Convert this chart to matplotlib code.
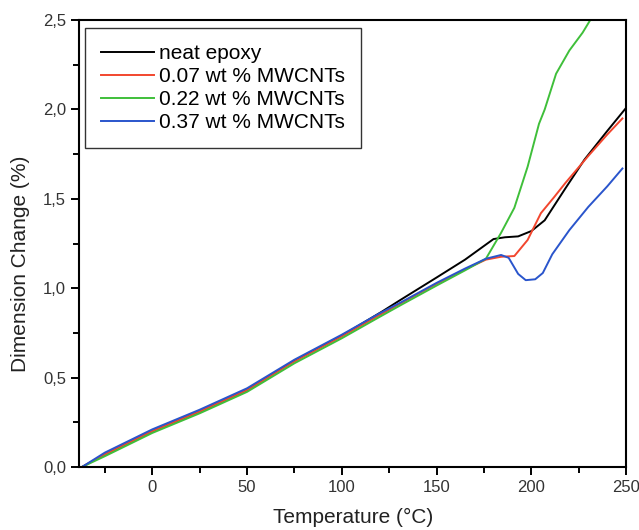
import matplotlib.pyplot as plt
from matplotlib.ticker import MultipleLocator, FuncFormatter

plt.rcParams['font.family'] = ['Liberation Sans', 'DejaVu Sans']

# temperature (deg C) and dimension change (%)
t_neat = [-37, -25, 0, 25, 50, 75, 100, 121, 131, 150, 165, 180, 186, 193, 200, 207, 218, 228, 240, 250]
d_neat = [0.0, 0.07, 0.2, 0.31, 0.43, 0.595, 0.735, 0.868, 0.935, 1.06, 1.16, 1.275, 1.285, 1.29, 1.32, 1.38, 1.56, 1.72, 1.88, 2.01]

t_007 = [-37, -25, 0, 25, 50, 75, 100, 120, 131, 150, 165, 176, 184, 191, 198, 205, 212, 218, 230, 240, 248]
d_007 = [0.0, 0.07, 0.2, 0.31, 0.43, 0.59, 0.73, 0.85, 0.915, 1.025, 1.105, 1.16, 1.176, 1.18, 1.27, 1.42, 1.51, 1.59, 1.74, 1.86, 1.95]

t_022 = [-37, -25, 0, 25, 50, 75, 100, 120, 131, 150, 165, 176, 184, 191, 198, 204, 207, 213, 220, 227, 231]
d_022 = [0.0, 0.06, 0.19, 0.3, 0.42, 0.58, 0.72, 0.84, 0.905, 1.015, 1.1, 1.165, 1.31, 1.45, 1.68, 1.92, 2.0, 2.2, 2.33, 2.43, 2.5]

t_037 = [-37, -25, 0, 25, 50, 75, 100, 120, 131, 150, 165, 176, 184, 188, 193, 197, 202, 206, 211, 220, 230, 240, 248]
d_037 = [0.0, 0.08, 0.21, 0.32, 0.44, 0.6, 0.74, 0.86, 0.92, 1.03, 1.11, 1.165, 1.186, 1.17, 1.08, 1.045, 1.05, 1.085, 1.19, 1.325, 1.455, 1.57, 1.67]

labels = ['neat epoxy', '0.07 wt % MWCNTs', '0.22 wt % MWCNTs', '0.37 wt % MWCNTs']
colors = ['black', '#f2462e', '#3fbf3a', '#2a55cc']

fig = plt.figure(figsize=(6.39, 5.30), dpi=100)
ax = fig.add_axes([0.124, 0.119, 0.856, 0.843])

for t, d, lab, c in zip([t_neat, t_007, t_022, t_037], [d_neat, d_007, d_022, d_037], labels, colors):
    ax.plot(t, d, color=c, lw=1.4, label=lab)

ax.set_xlim(-38.5, 250)
ax.set_ylim(0, 2.5)
ax.xaxis.set_major_locator(MultipleLocator(50))
ax.xaxis.set_minor_locator(MultipleLocator(25))
ax.yaxis.set_major_locator(MultipleLocator(0.5))
ax.yaxis.set_minor_locator(MultipleLocator(0.25))
ax.yaxis.set_major_formatter(FuncFormatter(lambda v, p: f"{v:.1f}".replace('.', ',')))
ax.tick_params(which='major', direction='out', length=6, width=1.4, labelsize=12, labelcolor='#333333')
ax.tick_params(which='minor', direction='out', length=4, width=1.4)
for s in ax.spines.values():
    s.set_linewidth(1.5)

ax.set_xlabel('Temperature (°C)', fontsize=15, color='#222222', labelpad=9)
ax.set_ylabel('Dimension Change (%)', fontsize=15, color='#222222')
ax.yaxis.set_label_coords(-0.09, 0.454)

leg = ax.legend(loc='upper left', bbox_to_anchor=(0.011, 0.982), borderaxespad=0, fontsize=15,
                frameon=True, fancybox=False, edgecolor='black', handlelength=2.55,
                handletextpad=0.25, labelspacing=0.2, borderpad=0.75)
leg.get_frame().set_linewidth(1.0)

fig.savefig('out.png', dpi=100)
